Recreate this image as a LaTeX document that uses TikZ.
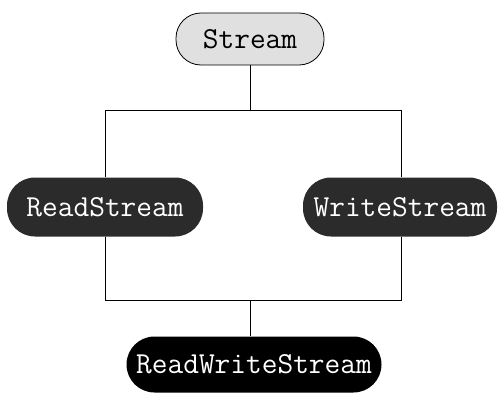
\documentclass[tikz,border=0pt]{standalone}
\begin{document}
\begin{tikzpicture}[x=1pt,y=1pt,
	pill/.style={rectangle,rounded corners=28pt,inner sep=0pt,font=\fontsize{30.5}{33}\ttfamily},
	base/.style={pill,fill=black!12,draw=black,line width=0.8pt,minimum width=148pt,minimum height=52pt,rounded corners=25pt},
	sub/.style={pill,fill=black!83,text=white,minimum width=196pt,minimum height=59pt},
	leaf/.style={pill,fill=black,text=white,minimum width=255pt,minimum height=56pt},
	link/.style={line width=1pt}]
		\useasboundingbox (0,0) rectangle (498,392);
		\path
		+(250,353)  node[base]  (S) {Stream}
		+(105,185)  node[sub]  (RS) {ReadStream}
		+(400,185)  node[sub,minimum width=194pt]  (WS) {WriteStream}
		+(254,27.5) node[leaf]  (RWS) {ReadWriteStream}
		;
		\coordinate (tl) at (105,282);
		\coordinate (tr) at (401,282);
		\coordinate (bl) at (105,92);
		\coordinate (br) at (401,92);
		\draw[link] (S.south)--(S.south|-tl);
		\draw[link] (RS.north)--(tl)--(tr)--(WS.north-|tr);
		\draw[link] (RS.south)--(bl)--(br)--(WS.south-|br);
		\draw[link] (RWS.north-|S.south)--(bl-|S.south);
\end{tikzpicture}
\end{document}
